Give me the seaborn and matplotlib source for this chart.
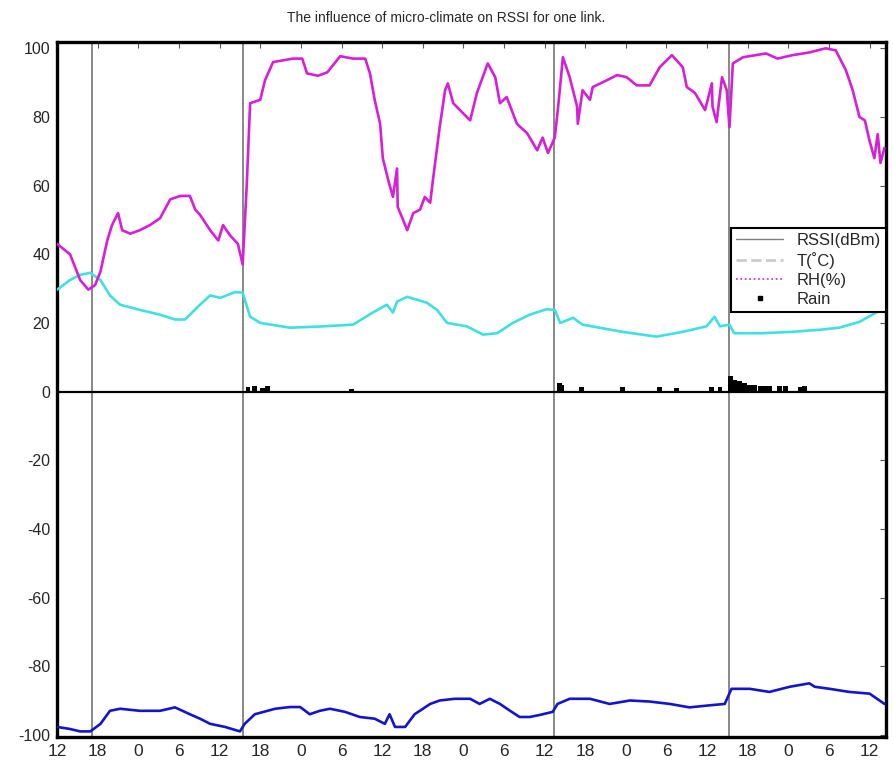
import pandas as pd
import matplotlib.pyplot as plt
import seaborn as sns
from matplotlib.lines import Line2D

# -----------------------------------
# DATA (hours since start)
# -----------------------------------
rh_hours = [0.0, 1.9, 3.4, 4.6, 5.6, 6.4, 7.4, 8.1, 9.0, 9.6, 10.8, 12.2, 13.7, 15.2,
            16.7, 18.2, 19.6, 20.4, 21.1, 22.6, 23.8, 24.5, 25.5, 26.7, 27.4, 28.0,
            28.5, 30.0, 30.7, 31.9, 33.4, 34.8, 36.2, 36.9, 38.5, 39.9, 41.8, 43.7,
            45.5, 46.2, 46.9, 47.7, 48.1, 48.9, 49.6, 50.2, 50.3, 51.1, 51.7, 52.6,
            53.6, 54.3, 55.1, 55.5, 56.5, 57.3, 57.7, 58.5, 59.5, 61.0, 62.0, 63.6,
            64.7, 65.4, 66.4, 67.9, 69.4, 70.9, 71.7, 72.5, 73.5, 74.0, 74.7, 75.7,
            76.8, 76.9, 77.6, 78.7, 79.1, 81.2, 82.7, 84.1, 85.6, 87.5, 89.0, 90.8,
            92.4, 93.0, 94.2, 95.7, 96.7, 96.8, 97.4, 98.2, 98.9, 99.3, 99.8, 101.3,
            104.7, 106.4, 108.6, 111.1, 113.5, 115.0, 116.5, 117.5, 118.5, 119.3,
            120.0, 120.7, 121.2, 121.6, 122.2]
rh_values = [43, 40, 32.5, 29.7, 31, 35, 44, 48.5, 52, 47, 46, 47, 48.5, 50.5,
             56, 57, 57, 53, 51.5, 47, 44, 48.5, 45.6, 43, 37, 60,
             84, 85, 90.7, 96, 96.5, 97, 97, 92.7, 92, 93, 97.7, 97,
             97, 92.7, 85, 78, 68, 61.6, 56.7, 65, 53.8, 50, 47, 52,
             53, 56.7, 55, 61.6, 77, 87.8, 89.8, 84, 82, 79, 87, 95.6,
             91.6, 84, 85.8, 78, 75.3, 70.3, 74, 69.5, 74, 83, 97.4, 91.6,
             83, 78, 87.8, 85, 88.7, 90.7, 92.2, 91.6, 89.2, 89.2, 94.5, 98,
             94.5, 88.7, 87, 82, 89.8, 83, 78.5, 91.6, 87.8, 77, 95.6, 97.4,
             98.5, 97, 98, 98.8, 100, 99.4, 93.6, 87.8, 80, 79,
             73, 68, 75, 66.6, 71]

t_hours = [0.0, 1.9, 3.4, 4.9, 6.4, 7.8, 9.3, 12.2, 15.2, 17.4, 18.9, 21.1, 22.6,
           24.1, 26.3, 27.4, 28.5, 30.0, 34.4, 39.3, 43.7, 46.6, 48.7, 49.6, 50.2,
           51.7, 54.6, 56.1, 57.6, 60.5, 62.9, 65.0, 67.3, 69.8, 72.3, 73.5, 74.3,
           76.2, 77.6, 83.5, 88.5, 92.4, 95.9, 97.1, 97.9, 99.3, 100.0, 104.1,
           108.5, 112.6, 115.5, 118.5, 122.2]
t_values = [29.7, 32.5, 34, 34.6, 32.5, 28, 25.3, 23.8, 22.4, 21, 21, 25.3, 28,
            27.3, 29, 28.8, 21.8, 20, 18.6, 19, 19.5, 23, 25.3, 23, 26.2,
            27.6, 25.9, 23.8, 20, 19, 16.6, 17, 20, 22.4, 24, 23.8, 20,
            21.5, 19.5, 17.4, 16, 17.4, 19, 21.8, 19, 19.5, 17, 17,
            17.4, 18, 18.6, 20.3, 24.4]

rssi_hours = [0.0, 1.9, 3.4, 4.9, 6.4, 7.8, 9.3, 12.2, 15.2, 17.4, 19.6, 21.1, 22.6,
              24.8, 27.0, 27.7, 29.2, 32.2, 34.4, 35.9, 37.3, 38.8, 40.3, 42.5, 44.7,
              46.9, 48.4, 49.1, 49.9, 51.4, 52.8, 55.1, 56.5, 58.7, 61.0, 62.4, 63.9,
              65.4, 66.9, 68.3, 69.8, 71.3, 73.2, 73.9, 75.7, 78.7, 81.6, 84.6, 87.5,
              90.5, 93.4, 96.4, 98.6, 99.6, 102.3, 105.2, 108.2, 111.1, 111.9, 114.1,
              117.0, 120.0, 122.2]
rssi_values = [-97.7, -98.3, -99, -99, -96.8, -93, -92.4, -93, -93, -92, -94, -95.3, -96.8,
               -97.7, -99, -96.8, -94, -92.4, -91.9, -91.9, -94, -93, -92.4, -93.3, -94.8,
               -95.3, -96.8, -94, -97.7, -97.7, -94, -91, -90, -89.5, -89.5, -91, -89.5,
               -91, -93, -94.8, -94.8, -94.2, -93.3, -91, -89.5, -89.5, -91, -90, -90.3,
               -91, -92, -91.4, -91, -86.6, -86.6, -87.5, -86, -85, -86, -86.6,
               -87.5, -88, -91]

rain_hours = [28.2, 29.2, 30.3, 31.1, 43.5, 74.2, 74.5, 77.5, 83.5, 89.0, 91.5, 96.7,
              97.9, 99.5, 100.1, 100.8, 101.5, 102.3, 103.0, 103.8, 104.5, 105.2,
              106.7, 107.6, 109.7, 110.4]
rain_values = [1.2, 1.5, 1.0, 1.5, 0.8, 2.6, 2.0, 1.2, 1.2, 1.2, 1.0, 1.2,
               1.2, 4.4, 3.5, 3.0, 2.5, 2.0, 2.0, 1.7, 1.7, 1.7,
               1.7, 1.7, 1.2, 1.5]

day_breaks = [5.2, 27.5, 73.4, 99.3]

tick_hours = list(range(0, 121, 6))
tick_labels = ["12", "18", "0", "6"] * 5 + ["12"]

rh_df = pd.DataFrame({"hour": rh_hours, "value": rh_values})
t_df = pd.DataFrame({"hour": t_hours, "value": t_values})
rssi_df = pd.DataFrame({"hour": rssi_hours, "value": rssi_values})

# -----------------------------------
# STYLE
# -----------------------------------
sns.set_theme(style="white")
plt.rcParams["font.family"] = ["Liberation Sans", "DejaVu Sans"]
plt.rcParams["axes.unicode_minus"] = False

fig = plt.figure(figsize=(8.93, 7.66), dpi=100)
ax = fig.add_axes([0.064, 0.038, 0.928, 0.907])

# -----------------------------------
# LINES
# -----------------------------------
for x in day_breaks:
    ax.axvline(x, color="#7f7f7f", lw=1.3, zorder=1)

ax.axhline(0, color="black", lw=1.6, zorder=2)

sns.lineplot(data=t_df, x="hour", y="value", ax=ax, color="#40e0e0",
             lw=1.9, estimator=None, sort=False, zorder=3)
sns.lineplot(data=rh_df, x="hour", y="value", ax=ax, color="#d61fd6",
             lw=1.9, estimator=None, sort=False, zorder=3)
sns.lineplot(data=rssi_df, x="hour", y="value", ax=ax, color="#1414cc",
             lw=1.9, estimator=None, sort=False, zorder=3)

ax.bar(rain_hours, rain_values, width=0.7, color="black",
       edgecolor="none", linewidth=0, zorder=4)

# -----------------------------------
# AXES
# -----------------------------------
ax.set_xlim(0, 122.4)
ax.set_ylim(-100.6, 101.8)
ax.set_xticks(tick_hours)
ax.set_xticklabels(tick_labels, fontsize=12.5)
ax.set_yticks(range(-100, 101, 20))
ax.tick_params(axis="y", labelsize=11.5)
ax.tick_params(direction="in", top=True, right=True, length=4, width=0.8,
               color="#555555", pad=5)
ax.set_xlabel("")
ax.set_ylabel("")
for spine in ax.spines.values():
    spine.set_linewidth(2.4)
    spine.set_color("black")

fig.suptitle("The influence of micro-climate on RSSI for one link.",
             fontsize=10, y=0.985)

# -----------------------------------
# LEGEND
# -----------------------------------
handles = [
    Line2D([], [], color="#7f7f7f", lw=1),
    Line2D([], [], color="#cccccc", lw=2, linestyle="--"),
    Line2D([], [], color="#d61fd6", lw=1.2, linestyle=":"),
    Line2D([], [], color="black", marker="s", markersize=2.5, linestyle="none"),
]
labels = ["RSSI(dBm)", "T(˚C)", "RH(%)", "Rain"]
leg = fig.legend(handles, labels, loc="upper left",
                 bbox_to_anchor=(0.819, 0.703), fontsize=12,
                 frameon=True, fancybox=False, borderpad=0.3,
                 labelspacing=0.25, handlelength=2.8, handletextpad=0.8,
                 borderaxespad=0)
leg.get_frame().set_edgecolor("black")
leg.get_frame().set_linewidth(1.5)
leg.get_frame().set_facecolor("white")
leg.get_frame().set_alpha(1)

plt.savefig("out.png", dpi=100)
